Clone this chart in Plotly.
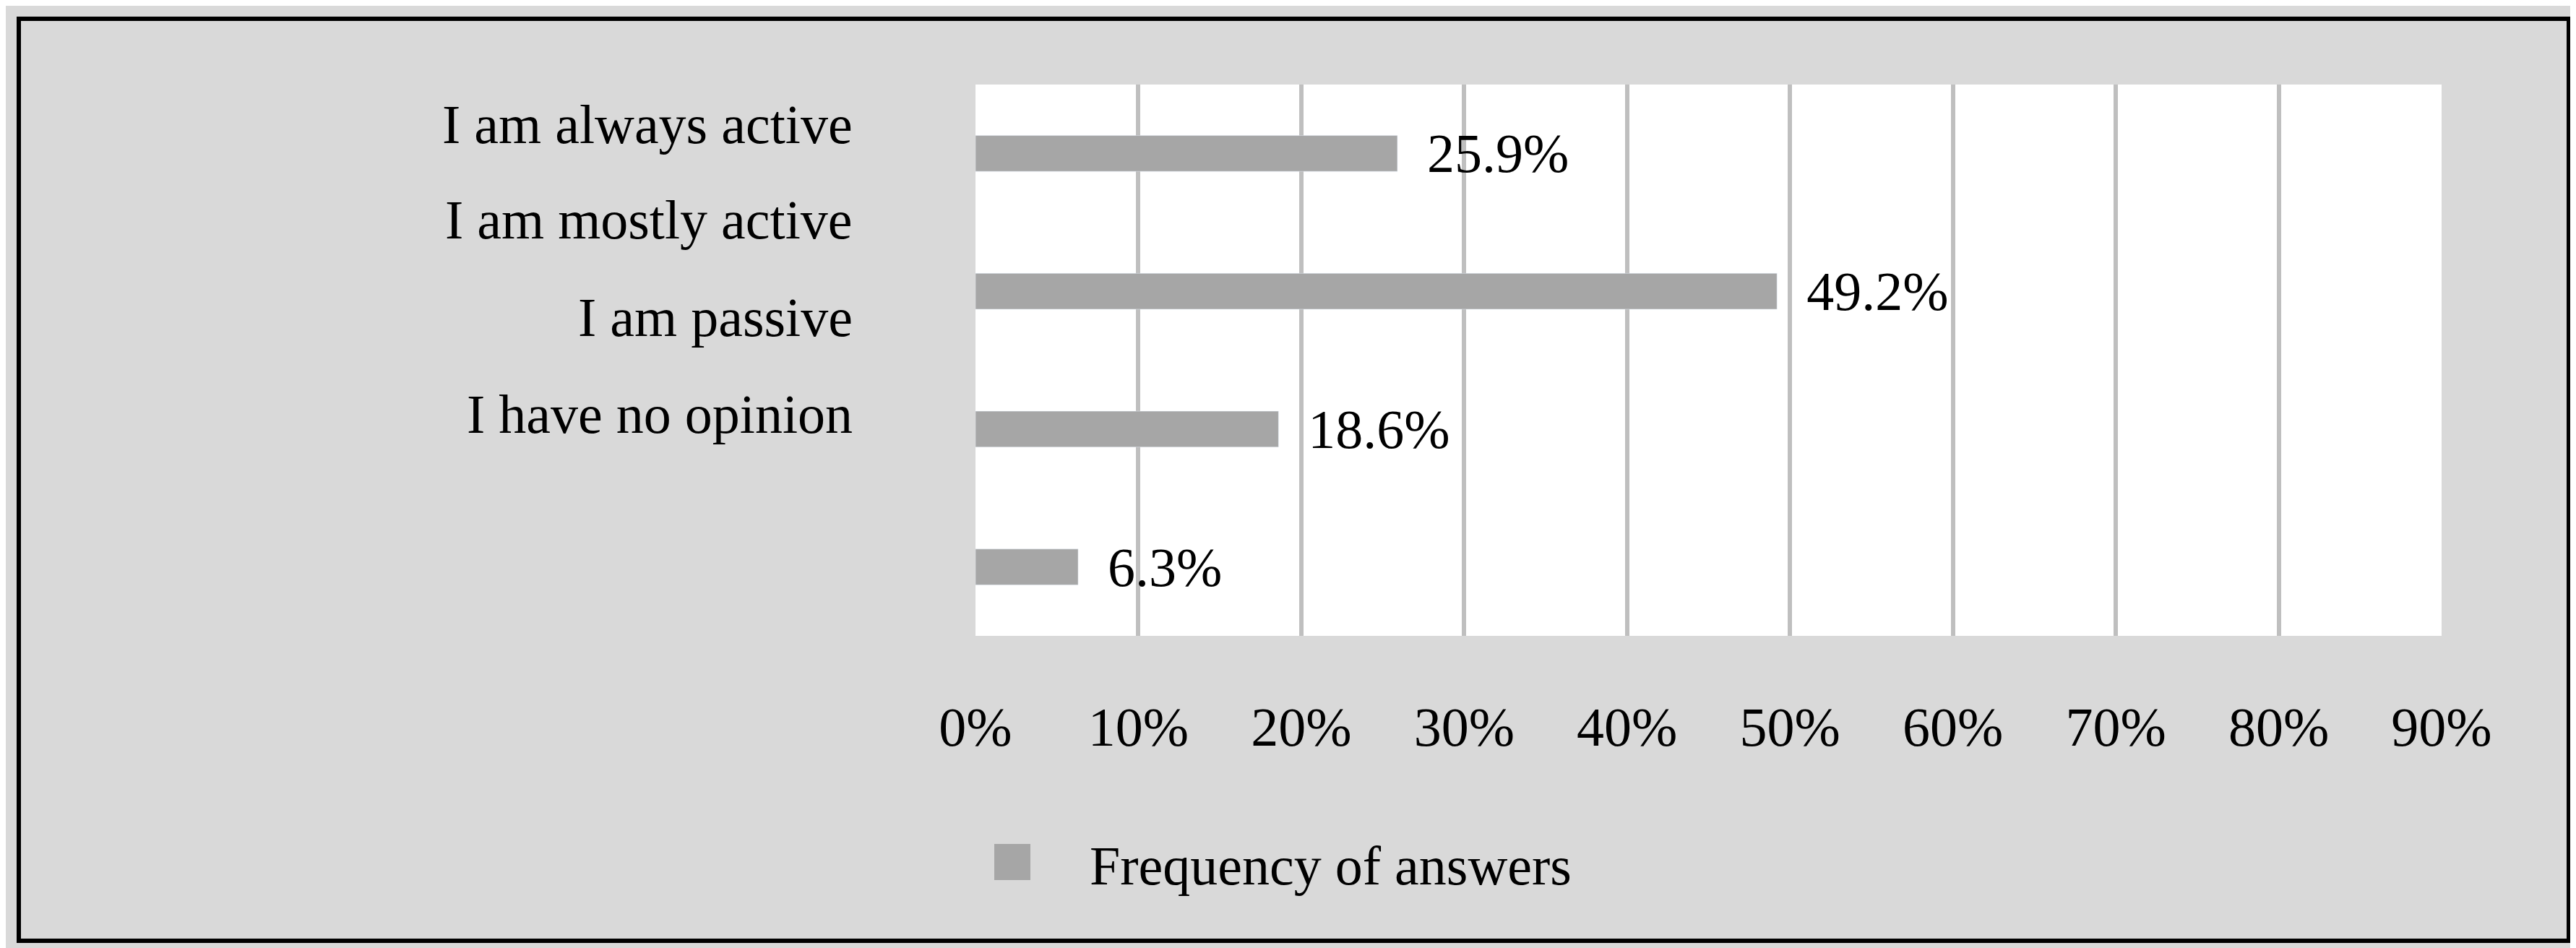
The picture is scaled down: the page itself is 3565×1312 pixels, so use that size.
import plotly.graph_objects as go

categories = ["a", "b", "c", "d"]
values = [25.9, 49.2, 18.6, 6.3]
value_labels = ["25.9%", "49.2%", "18.6%", "6.3%"]
label_texts = ["I am always active", "I am mostly active", "I am passive", "I have no opinion"]
label_ypos = [0.928, 0.755, 0.578, 0.402]
tick_vals = [0, 10, 20, 30, 40, 50, 60, 70, 80, 90]
tick_text = ["0%", "10%", "20%", "30%", "40%", "50%", "60%", "70%", "80%", "90%"]
series_name = "Frequency of answers"

W, H = 3565, 1312
PW, PH = 2029, 763
FONT = dict(family="Liberation Serif", size=76, color="black")

fig = go.Figure(go.Bar(
    y=categories, x=values, orientation="h", marker_color="#a6a6a6",
    text=["  " + v for v in value_labels], textposition="outside", textfont=FONT,
    constraintext="none", cliponaxis=False, showlegend=False))

for t, yp in zip(label_texts, label_ypos):
    fig.add_annotation(text=t, xref="paper", yref="paper", x=-0.083, y=yp,
                       xanchor="right", yanchor="middle", showarrow=False, font=FONT)

# legend
fig.add_shape(type="rect", xref="paper", yref="paper",
              x0=(1368-1342)/PW, x1=(1418-1342)/PW,
              y0=(872-1210)/PH, y1=(872-1160)/PH,
              fillcolor="#a6a6a6", line=dict(width=0))
fig.add_annotation(text=series_name, xref="paper", yref="paper",
                   x=(1498-1342)/PW, y=(872-1190)/PH, xanchor="left", yanchor="middle",
                   showarrow=False, font=FONT)

fig.add_shape(type="rect", xref="paper", yref="paper",
              x0=(18-1342)/PW, x1=(3547-1342)/PW,
              y0=(872-1294)/PH, y1=(872-18)/PH,
              line=dict(color="black", width=6))

fig.update_layout(
    width=W, height=H, margin=dict(l=1342, r=194, t=109, b=440),
    paper_bgcolor="#d9d9d9", plot_bgcolor="white", bargap=0.74,
    font=FONT, showlegend=False,
    xaxis=dict(range=[0, 90], tickvals=tick_vals, ticktext=tick_text,
               showgrid=True, gridcolor="#bfbfbf", gridwidth=6, zeroline=False,
               ticklabelstandoff=75, tickfont=FONT),
    yaxis=dict(categoryorder="array", categoryarray=categories[::-1],
               showticklabels=False, showgrid=False),
)
fig.write_html("out.html")
